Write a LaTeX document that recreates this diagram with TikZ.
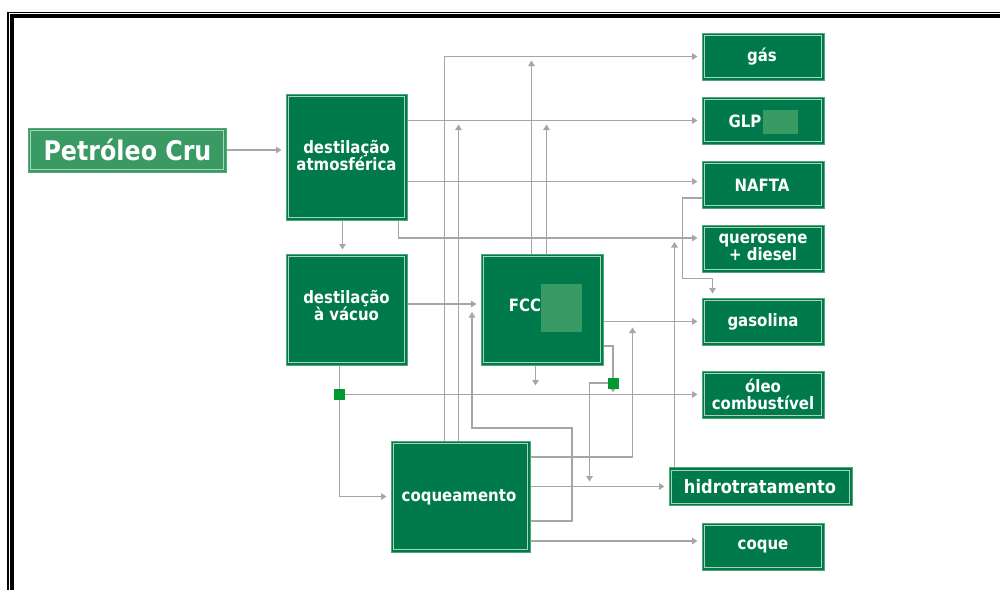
\documentclass[tikz,border=0pt]{standalone}
\usepackage{fontspec}
\setmainfont{DejaVu Sans}[FakeStretch=0.88]
\usetikzlibrary{arrows.meta,backgrounds}
\definecolor{dkgreen}{HTML}{007A4B}
\definecolor{ltgreen}{HTML}{3A9A64}
\definecolor{edgegreen}{HTML}{4FA876}
\definecolor{innergreen}{HTML}{A8D5BA}
\definecolor{juncgreen}{HTML}{009933}
\definecolor{wiregray}{HTML}{A6A6A6}
\tikzset{
  box/.style={draw=edgegreen, line width=1pt, fill=dkgreen, inner sep=0pt,
    path picture={\draw[innergreen, line width=0.8pt]
      ([shift={(2.5pt,2.5pt)}]path picture bounding box.south west) rectangle
      ([shift={(-2.5pt,-2.5pt)}]path picture bounding box.north east);}},
  bigbox/.style={box, minimum width=121pt, minimum height=111pt},
  rbox/.style={box, minimum width=122pt, minimum height=47pt},
  patch/.style={fill=ltgreen, draw=none, inner sep=0pt},
  lbl/.style={text=white, font=\bfseries\fontsize{17}{17.5}\selectfont, align=center, inner sep=0pt},
  wire/.style={draw=wiregray, line width=1.6pt},
  arr/.style={wire, -{Triangle[length=5.5pt,width=6.5pt]}, shorten >=4pt},
  junc/.style={fill=juncgreen, draw=none, minimum size=11pt, inner sep=0pt},
}
\begin{document}
\begin{tikzpicture}[x=1pt,y=-1pt]
\useasboundingbox (0,0) rectangle (1000,589);

% boxes
\node[box, fill=ltgreen, minimum width=198pt, minimum height=44pt] (pc) at (127,150) {};
\node[lbl, font=\bfseries\fontsize{27}{28}\selectfont] (pct) at (127.5,150) {Petróleo Cru};

\node[bigbox, minimum height=126pt] (da) at (346.5,157) {};
\node[lbl] (dat) at (346.5,155.5) {destilação\\atmosférica};

\node[bigbox] (dv) at (346.5,309.5) {};
\node[lbl] (dvt) at (346.5,305.5) {destilação\\à vácuo};

\node[bigbox, minimum width=122pt] (fcc) at (542,309.5) {};
\node[lbl] (fcct) at (525,305) {FCC};
\node[patch, minimum width=41pt, minimum height=48pt] (fccp) at (561.5,307.5) {};

\node[bigbox, minimum width=139pt] (coq) at (460.5,496.5) {};
\node[lbl] (coqt) at (459,497) {coqueamento};

\node[rbox] (gas) at (763,56.5) {};
\node[lbl] (gast) at (762,57) {gás};
\node[rbox] (glp) at (763,120.5) {};
\node[lbl] (glpt) at (745,121) {GLP};
\node[patch, minimum width=35pt, minimum height=24pt] (glpp) at (780.5,122) {};
\node[rbox] (naf) at (763,184.5) {};
\node[lbl] (naft) at (762,185) {NAFTA};
\node[rbox] (qd) at (763,248.5) {};
\node[lbl] (qdt) at (763,247.5) {querosene\\+ diesel};
\node[rbox] (gsl) at (763,321.5) {};
\node[lbl] (gslt) at (763,322) {gasolina};
\node[rbox] (oleo) at (763,394.5) {};
\node[lbl] (oleot) at (763,394.5) {óleo\\combustível};
\node[box, minimum width=183pt, minimum height=38pt] (hid) at (760.5,486.5) {};
\node[lbl, font=\bfseries\fontsize{18.5}{20}\selectfont] (hidt) at (760,486.5) {hidrotratamento};
\node[rbox] (cq) at (763,546.5) {};
\node[lbl] (cqt) at (763,546.5) {coque};

% junctions
\coordinate (d1) at ([xshift=54pt]dv.south west);
\node[junc] (sq1) at (d1 |- oleo.west) {};
\node[junc] (sq2) at (613,383) {};

\begin{pgfonlayer}{background}
\fill[white] (0,0) rectangle (1000,589);
\draw[line width=1.5pt] (8.2,600) -- (8.2,12.7) -- (1010,12.7);
\draw[line width=4pt] (12,600) -- (12,16) -- (1010,16);

\draw[arr] (pc.east) -- (pc.east -| da.west);

\coordinate (c1) at ([xshift=54pt]coq.north west);
\draw[arr] (c1) |- (gas.west);
\coordinate (c2) at ([xshift=68pt]coq.north west);
\draw[arr] (c2) -- (c2 |- glp.west);
\coordinate (f1) at ([xshift=51pt]fcc.north west);
\draw[arr] (f1) -- (f1 |- gas.west);
\coordinate (f2) at ([xshift=66pt]fcc.north west);
\draw[arr] (f2) -- (f2 |- glp.west);

\draw[arr] (da.east |- glp.west) -- (glp.west);
\coordinate (n0) at ([yshift=3pt]naf.west);
\draw[arr] (da.east |- n0) -- (n0);
\coordinate (q1) at ([yshift=10.5pt]qd.west);
\draw[arr] ([xshift=113pt]da.south west) |- (q1);
\coordinate (h1) at ([xshift=6pt]hid.north west);
\draw[arr] (h1) -- (h1 |- q1);

\coordinate (n1) at ([yshift=-13.5pt]naf.west);
\coordinate (n2) at ([xshift=11pt]gsl.north west);
\coordinate (n3) at ([xshift=-19pt]n1);
\coordinate (n4) at ([yshift=19pt]n2);
\draw[arr] (n1) -- (n3) |- (n4) -- (n2);

\draw[arr] ([xshift=57pt]da.south west) -- ([xshift=57pt]dv.north west);
\coordinate (v1) at ([yshift=5.5pt]dv.east);
\draw[arr] (v1) -- (v1 -| fcc.west);

\coordinate (c3) at ([yshift=-24.5pt]coq.east);
\coordinate (b1) at (572,428);
\coordinate (b2) at (472,428);
\draw[arr, shorten >=8pt] (c3) -| (b1) -- (b2) -- (b2 |- v1);

\draw[arr] (d1) |- (coq.west);
\draw[arr] (sq1.center) -- (oleo.west);

\draw[arr] (fcc.east |- gsl.west) -- (gsl.west);
\coordinate (f3) at ([xshift=55pt]fcc.south west);
\draw[arr, shorten >=9pt] (f3) -- (f3 |- oleo.west);
\coordinate (f4) at ([yshift=-36.5pt]fcc.east);
\draw[wire] (f4) -| (sq2.center);
\draw[arr, shorten >=2pt] (sq2.center) -- (sq2 |- oleo.west);
\draw[arr, shorten >=5pt] (sq2.center) -| ([xshift=-79pt]hid.west);

\draw[arr, shorten >=6pt] ([yshift=39.5pt]coq.east) -| ([xshift=-69pt]gsl.west);
\draw[arr] (coq.east |- hid.west) -- (hid.west);
\coordinate (k1) at ([yshift=5.5pt]cq.west);
\draw[arr] (coq.east |- k1) -- (k1);
\end{pgfonlayer}
\end{tikzpicture}
\end{document}
